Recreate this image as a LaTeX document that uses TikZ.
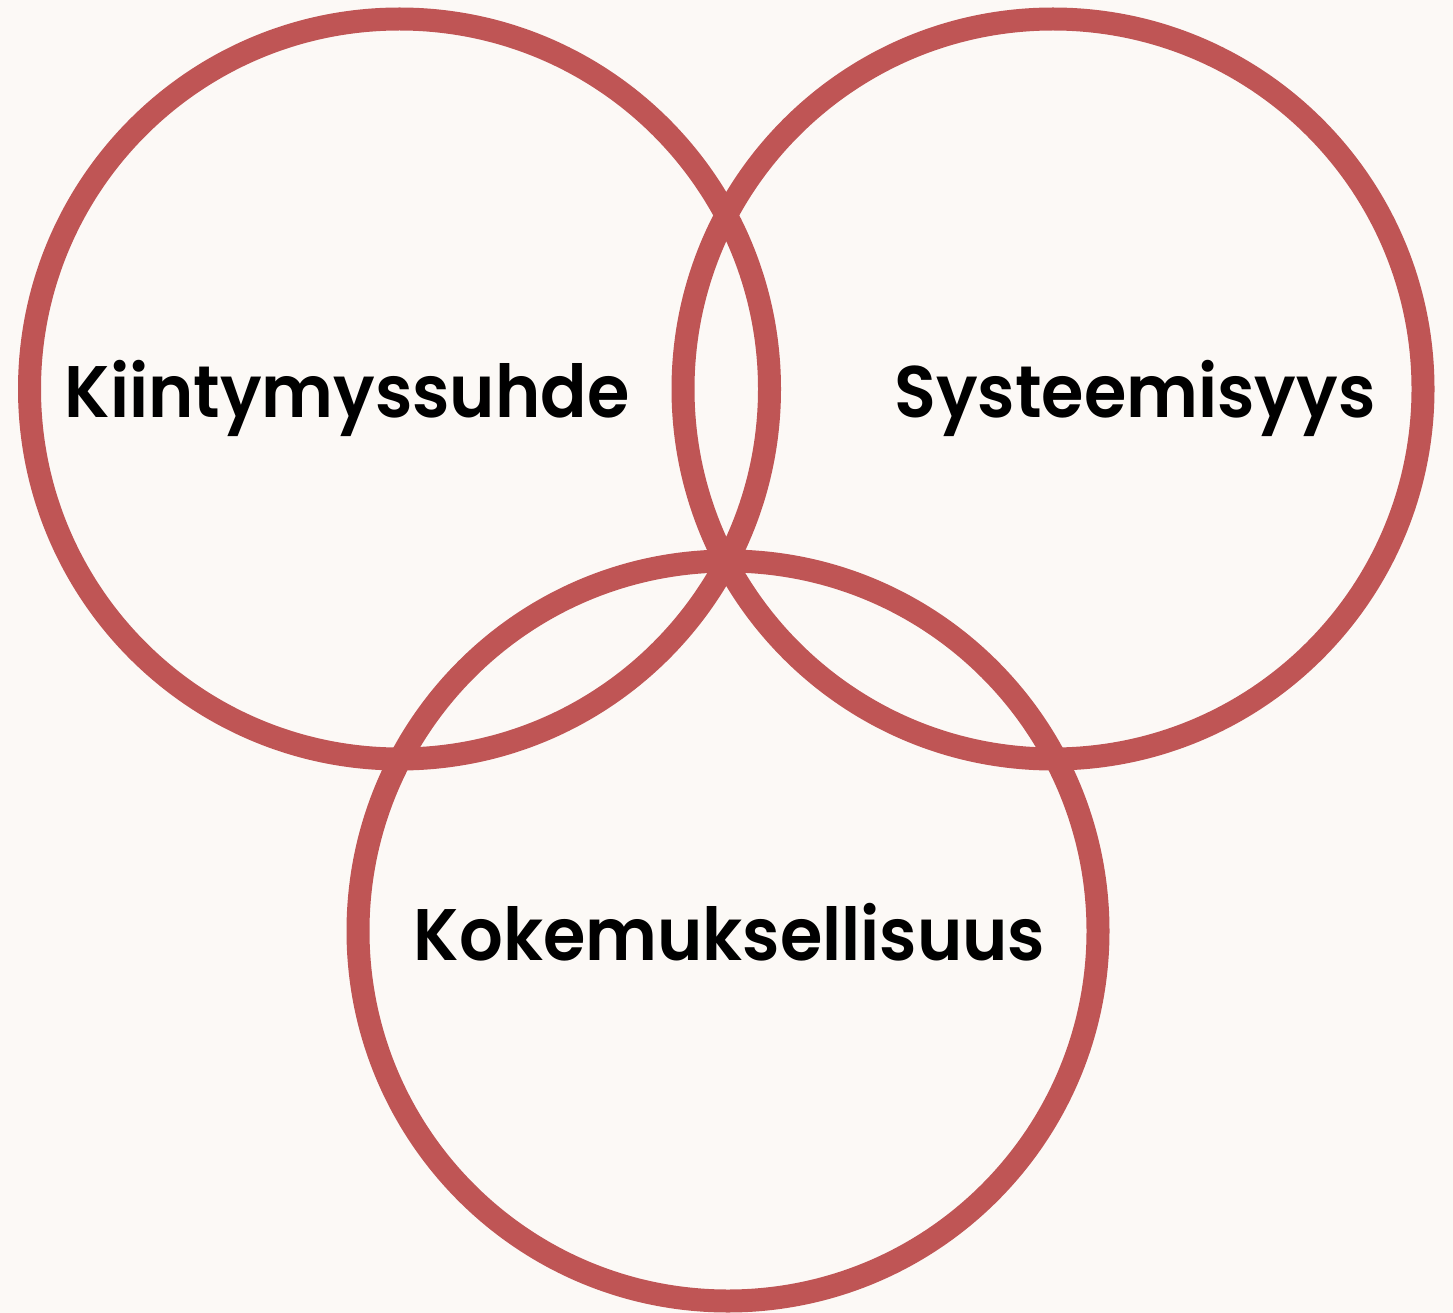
\documentclass[tikz,border=0pt]{standalone}
\usepackage{fontspec}
\setmainfont{Poppins}[BoldFont={* SemiBold},BoldFeatures={FakeStretch=0.94}]
\definecolor{bgc}{HTML}{FCF9F6}
\definecolor{ringc}{HTML}{BF5555}
\begin{document}
\begin{tikzpicture}[x=1pt,y=-1pt,
  ring/.style={draw=ringc,line width=23pt},
  lbl/.style={font=\fontsize{73}{84}\selectfont\bfseries,text=black,inner sep=0pt,anchor=base}]
\fill[bgc] (0,0) rectangle (1453,1313);
\useasboundingbox (0,0) rectangle (1453,1313);
\draw[ring] (399.5,389) circle[radius=370];
\draw[ring] (1053,389) circle[radius=370];
\draw[ring] (728,931) circle[radius=370];
\node[lbl] (k) at (347,417) {Kiintymyssuhde};
\node[lbl] (s) at (1135,417) {Systeemisyys};
\node[lbl] (o) at (729.5,960) {Kokemuksellisuus};
\end{tikzpicture}
\end{document}
